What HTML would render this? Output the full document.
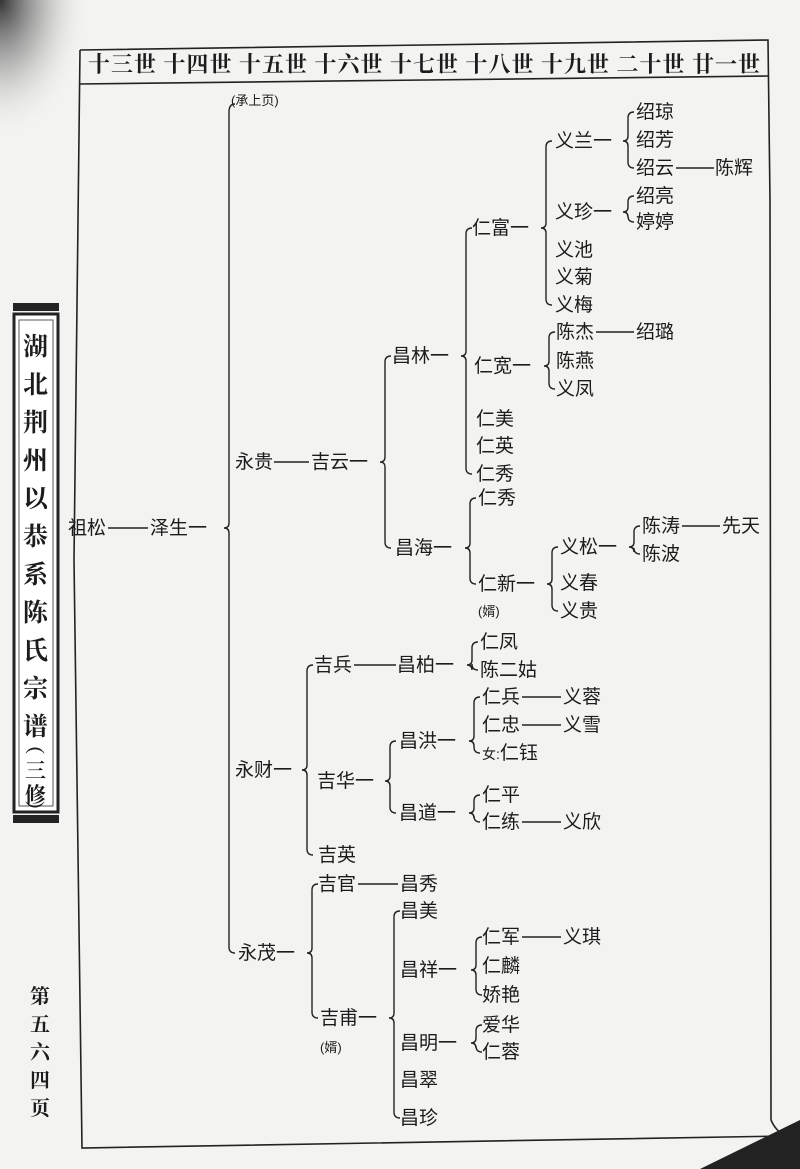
<!DOCTYPE html>
<html><head><meta charset="utf-8"><style>
html,body{margin:0;padding:0;}
body{width:800px;height:1169px;overflow:hidden;background:#f3f3f1;position:relative;font-family:"Liberation Sans","Noto Sans CJK SC",sans-serif;}
svg{position:absolute;left:0;top:0;}
text{font-family:"Liberation Sans","Noto Sans CJK SC",sans-serif;fill:#1c1c1c;font-size:19px;}
.h{font-family:"Noto Serif CJK SC","Noto Sans CJK SC",serif;font-size:22px;font-weight:bold;}
.s{font-size:13px;}
.t{font-family:"Noto Serif CJK SC","Noto Sans CJK SC",serif;font-size:25px;font-weight:bold;}
.p{font-family:"Noto Serif CJK SC","Noto Sans CJK SC",serif;font-size:20px;font-weight:bold;}
</style></head><body>
<svg width="800" height="1169" viewBox="0 0 800 1169">
<defs>
<radialGradient id="g1" cx="0" cy="0" r="1"><stop offset="0" stop-color="#333"/><stop offset="0.5" stop-color="#999" stop-opacity="0.6"/><stop offset="1" stop-color="#f3f3f1" stop-opacity="0"/></radialGradient>
</defs>
<rect x="0" y="0" width="90" height="140" fill="url(#g1)"/>
<path d="M700 1169 L800 1120 L800 1169 Z" fill="#222"/>
<g fill="none" stroke="#222" stroke-width="1.6">
<path d="M80 50 L768 40 L770 200 L771 1120 Q775 1130 785 1136 L82 1148 L74 560 L80 50"/>
<path d="M79 84 L769 76"/>
</g>
<text class="h" x="88" y="72" textLength="672" lengthAdjust="spacing">十三世 十四世 十五世 十六世 十七世 十八世 十九世 二十世 廿一世</text>
<!-- title box -->
<rect x="13" y="303" width="46" height="8" fill="#222"/>
<rect x="13" y="815" width="46" height="8" fill="#222"/>
<rect x="14" y="314" width="44" height="498" fill="#fff" stroke="#222" stroke-width="3"/>
<rect x="19" y="320" width="34" height="486" fill="none" stroke="#555" stroke-width="1"/>
<text class="t" x="23" y="355">湖</text><text class="t" x="23" y="393">北</text><text class="t" x="23" y="431">荆</text><text class="t" x="23" y="469">州</text><text class="t" x="23" y="507">以</text><text class="t" x="23" y="545">恭</text><text class="t" x="23" y="583">系</text><text class="t" x="23" y="621">陈</text><text class="t" x="23" y="659">氏</text><text class="t" x="23" y="697">宗</text><text class="t" x="23" y="735">谱</text>
<text class="t" x="25" y="752" style="font-size:20px">︵</text>
<text class="t" x="25" y="778" style="font-size:21px">三</text>
<text class="t" x="25" y="802" style="font-size:21px">修</text>
<text class="t" x="25" y="818" style="font-size:20px">︶</text>
<text class="p" x="30" y="1003">第</text><text class="p" x="30" y="1031">五</text><text class="p" x="30" y="1059">六</text><text class="p" x="30" y="1087">四</text><text class="p" x="30" y="1115">页</text>

<g fill="none" stroke="#222" stroke-width="1.4">
<path d="M235 104 Q229 104 229 112 L229 523 Q229 528 224 528 Q229 528 229 533 L229 947 Q229 953 235 953"/>
<path d="M391 356 Q385 356 385 362 L385 457 Q385 462 380 462 Q385 462 385 467 L385 542 Q385 548 391 548"/>
<path d="M472 228 Q466 228 466 234 L466 351 Q466 356 461 356 Q466 356 466 361 L466 468 Q466 474 472 474"/>
<path d="M552 141 Q546 141 546 147 L546 223 Q546 228 541 228 Q546 228 546 233 L546 299 Q546 305 552 305"/>
<path d="M634 112 Q628 112 628 118 L628 136 Q628 141 623 141 Q628 141 628 146 L628 162 Q628 168 634 168"/>
<path d="M634 196 Q628 196 628 202 L628 207 Q628 212 623 212 Q628 212 628 217 L628 216 Q628 222 634 222"/>
<path d="M555 332 Q549 332 549 338 L549 361 Q549 366 544 366 Q549 366 549 371 L549 383 Q549 389 555 389"/>
<path d="M476 498 Q470 498 470 504 L470 543 Q470 548 465 548 Q470 548 470 553 L470 578 Q470 584 476 584"/>
<path d="M558 547 Q552 547 552 553 L552 579 Q552 584 547 584 Q552 584 552 589 L552 605 Q552 611 558 611"/>
<path d="M640 526 Q634 526 634 532 L634 542 Q634 547 629 547 Q634 547 634 552 L634 548 Q634 554 640 554"/>
<path d="M313 665 Q307 665 307 671 L307 765 Q307 770 302 770 Q307 770 307 775 L307 849 Q307 855 313 855"/>
<path d="M478 642 Q472 642 472 648 L472 660 Q472 665 467 665 Q472 665 472 670 L472 664 Q472 670 478 670"/>
<path d="M396 741 Q390 741 390 747 L390 776 Q390 781 385 781 Q390 781 390 786 L390 807 Q390 813 396 813"/>
<path d="M480 697 Q474 697 474 703 L474 736 Q474 741 469 741 Q474 741 474 746 L474 747 Q474 753 480 753"/>
<path d="M480 795 Q474 795 474 801 L474 808 Q474 813 469 813 Q474 813 474 818 L474 816 Q474 822 480 822"/>
<path d="M318 884 Q312 884 312 890 L312 948 Q312 953 307 953 Q312 953 312 958 L312 1012 Q312 1018 318 1018"/>
<path d="M400 911 Q394 911 394 917 L394 1013 Q394 1018 389 1018 Q394 1018 394 1023 L394 1112 Q394 1118 400 1118"/>
<path d="M482 937 Q476 937 476 943 L476 965 Q476 970 471 970 Q476 970 476 975 L476 989 Q476 995 482 995"/>
<path d="M482 1025 Q476 1025 476 1031 L476 1038 Q476 1043 471 1043 Q476 1043 476 1048 L476 1046 Q476 1052 482 1052"/>
<path d="M108 528 L148 528"/>
<path d="M274 462 L309 462"/>
<path d="M676 168 L714 168"/>
<path d="M596 332 L634 332"/>
<path d="M682 526 L720 526"/>
<path d="M354 665 L396 665"/>
<path d="M522 697 L561 697"/>
<path d="M522 725 L561 725"/>
<path d="M522 822 L561 822"/>
<path d="M358 884 L398 884"/>
<path d="M522 937 L561 937"/>
</g>

<text class="s" x="231" y="105">(承上页)</text>
<text x="68" y="534">祖松</text><text x="150" y="534">泽生一</text>
<text x="235" y="468">永贵</text><text x="311" y="468">吉云一</text>
<text x="392" y="362">昌林一</text><text x="395" y="554">昌海一</text>
<text x="472" y="234">仁富一</text><text x="474" y="372">仁宽一</text>
<text x="476" y="425">仁美</text><text x="476" y="452">仁英</text><text x="476" y="480">仁秀</text>
<text x="555" y="147">义兰一</text><text x="555" y="218">义珍一</text>
<text x="555" y="256">义池</text><text x="555" y="283">义菊</text><text x="555" y="311">义梅</text>
<text x="636" y="118">绍琼</text><text x="636" y="146">绍芳</text><text x="636" y="174">绍云</text><text x="715" y="174">陈辉</text>
<text x="636" y="202">绍亮</text><text x="636" y="228">婷婷</text>
<text x="556" y="338">陈杰</text><text x="636" y="338">绍璐</text>
<text x="556" y="367">陈燕</text><text x="556" y="395">义凤</text>
<text x="478" y="504">仁秀</text><text x="478" y="590">仁新一</text><text class="s" x="478" y="616">(婿)</text>
<text x="560" y="553">义松一</text><text x="560" y="589">义春</text><text x="560" y="617">义贵</text>
<text x="642" y="532">陈涛</text><text x="722" y="532">先天</text><text x="642" y="560">陈波</text>
<text x="235" y="776">永财一</text>
<text x="314" y="671">吉兵</text><text x="397" y="671">昌柏一</text>
<text x="480" y="648">仁凤</text><text x="480" y="676">陈二姑</text>
<text x="317" y="787">吉华一</text>
<text x="399" y="747">昌洪一</text><text x="399" y="819">昌道一</text>
<text x="482" y="703">仁兵</text><text x="563" y="703">义蓉</text>
<text x="482" y="731">仁忠</text><text x="563" y="731">义雪</text>
<text x="482" y="759"><tspan style="font-size:14px">女:</tspan>仁钰</text>
<text x="482" y="801">仁平</text><text x="482" y="828">仁练</text><text x="563" y="828">义欣</text>
<text x="318" y="861">吉英</text>
<text x="238" y="959">永茂一</text>
<text x="318" y="890">吉官</text><text x="400" y="890">昌秀</text>
<text x="320" y="1024">吉甫一</text><text class="s" x="320" y="1052">(婿)</text>
<text x="400" y="917">昌美</text><text x="400" y="976">昌祥一</text><text x="400" y="1049">昌明一</text>
<text x="400" y="1086">昌翠</text><text x="400" y="1124">昌珍</text>
<text x="482" y="943">仁军</text><text x="563" y="943">义琪</text>
<text x="482" y="972">仁麟</text><text x="482" y="1001">娇艳</text>
<text x="482" y="1031">爱华</text><text x="482" y="1058">仁蓉</text>
</svg>
</body></html>
